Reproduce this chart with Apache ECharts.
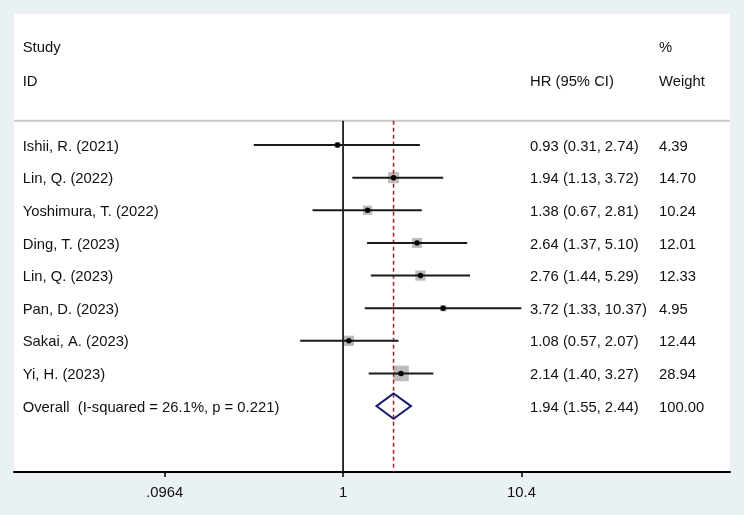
<!DOCTYPE html>
<html>
<head>
<meta charset="utf-8">
<script src="https://cdn.jsdelivr.net/npm/echarts@6/dist/echarts.min.js"></script>
<style>
html,body{margin:0;padding:0;background:#eaf1f3;}
#chart{width:744px;height:515px;}
</style>
</head>
<body>
<div id="chart"></div>
<script>
// ---- data ----
var studies = ['Ishii, R. (2021)','Lin, Q. (2022)','Yoshimura, T. (2022)','Ding, T. (2023)','Lin, Q. (2023)','Pan, D. (2023)','Sakai, A. (2023)','Yi, H. (2023)'];
var hr      = [0.93, 1.94, 1.38, 2.64, 2.76, 3.72, 1.08, 2.14];
var lower   = [0.31, 1.13, 0.67, 1.37, 1.44, 1.33, 0.57, 1.40];
var upper   = [2.74, 3.72, 2.81, 5.10, 5.29, 10.37, 2.07, 3.27];
var weights = [4.39, 14.70, 10.24, 12.01, 12.33, 4.95, 12.44, 28.94];
var hrText  = ['0.93 (0.31, 2.74)','1.94 (1.13, 3.72)','1.38 (0.67, 2.81)','2.64 (1.37, 5.10)','2.76 (1.44, 5.29)','3.72 (1.33, 10.37)','1.08 (0.57, 2.07)','2.14 (1.40, 3.27)'];
var weightText = ['4.39','14.70','10.24','12.01','12.33','4.95','12.44','28.94'];
var overallLabel = 'Overall  (I-squared = 26.1%, p = 0.221)';
var overallHR = 1.94, overallLo = 1.55, overallHi = 2.44;
var overallHRText = '1.94 (1.55, 2.44)', overallWeightText = '100.00';
var headerStudy = ['Study','ID'];
var headerHR = ['', 'HR (95% CI)'];
var headerWeight = ['%','Weight'];
var tickValues = [0.0964, 1, 10.4];
var tickLabels = ['.0964','1','10.4'];
var nullValue = 1;

// ---- layout ----
var FONT_FAMILY = '"Liberation Sans", Arial, sans-serif';
var FONT = '14.8px ' + FONT_FAMILY;
var TEXT_COLOR = '#111';
var COL_STUDY = 8.7, COL_HR = 516, COL_W = 645; // offsets from grid left (px)
var HEADER_ROWS = [-2.973, -1.931];
var RULE_ROW = -0.745;
var lg = function(v){ return Math.log(v)/Math.LN10; };

var nStudies = studies.length;
var overallRow = nStudies;

var chart = echarts.init(document.getElementById('chart'), null, {renderer:'canvas'});

function textEl(x, y, s, align){
  return {type:'text', x:x, y:y, style:{text:s, fill:TEXT_COLOR, font:FONT,
    textAlign:align||'left', textVerticalAlign:'middle', align:align||'left', verticalAlign:'middle'}};
}

var studyData = studies.map(function(s, i){ return [lg(hr[i]), i, lg(lower[i]), lg(upper[i]), weights[i]]; });

var option = {
  animation:false,
  backgroundColor:'#eaf1f3',
  grid:{left:14, right:14, top:14, bottom:43, show:true, backgroundColor:'#ffffff', borderWidth:0},
  xAxis:{
    type:'value', min:-1.875, max:2.205,
    splitLine:{show:false},
    axisLine:{show:true, onZero:false, lineStyle:{color:'#000', width:2}},
    axisTick:{show:true, length:5, lineStyle:{color:'#000', width:1.5}, customValues:tickValues.map(lg)},
    axisLabel:{show:true, margin:13.5, color:'#111', fontFamily:FONT_FAMILY, fontSize:14.8,
      customValues:tickValues.map(lg),
      formatter:function(v){
        var best=0, d=1e9;
        for(var k=0;k<tickValues.length;k++){ var dd=Math.abs(lg(tickValues[k])-v); if(dd<d){d=dd;best=k;} }
        return tickLabels[best];
      }}
  },
  yAxis:{type:'value', inverse:true, min:-4.015, max:10.02, show:false},
  series:[
    // weight boxes
    {
      type:'custom', z:1, data:studyData,
      renderItem:function(params, api){
        var c = api.coord([api.value(0), api.value(1)]);
        var side = 2.9*Math.sqrt(api.value(4));
        return {type:'rect', shape:{x:c[0]-side/2, y:c[1]-side/2, width:side, height:side}, style:{fill:'#bcbcbc'}};
      }
    },
    // rule, null line, overall dashed line
    {
      type:'custom', z:2, data:[[0]],
      renderItem:function(params, api){
        var cs = params.coordSys;
        var top = api.coord([0, RULE_ROW])[1];
        var bottom = cs.y + cs.height;
        var x1 = api.coord([lg(nullValue), 0])[0];
        var x2 = api.coord([lg(overallHR), 0])[0];
        return {type:'group', children:[
          {type:'line', shape:{x1:cs.x, y1:top, x2:cs.x+cs.width, y2:top}, style:{stroke:'#c8c8c8', lineWidth:2}},
          {type:'line', shape:{x1:x1, y1:top, x2:x1, y2:bottom}, style:{stroke:'#000', lineWidth:1.6}},
          {type:'line', shape:{x1:x2, y1:top, x2:x2, y2:bottom}, style:{stroke:'#a3242b', lineWidth:1.5, lineDash:[4,3]}}
        ]};
      }
    },
    // CI lines and points
    {
      type:'custom', z:3, data:studyData,
      renderItem:function(params, api){
        var c = api.coord([api.value(0), api.value(1)]);
        var a = api.coord([api.value(2), api.value(1)]);
        var b = api.coord([api.value(3), api.value(1)]);
        return {type:'group', children:[
          {type:'line', shape:{x1:a[0], y1:a[1], x2:b[0], y2:b[1]}, style:{stroke:'#1a1a1a', lineWidth:2}},
          {type:'circle', shape:{cx:c[0], cy:c[1], r:2.7}, style:{fill:'#000'}}
        ]};
      }
    },
    // overall diamond
    {
      type:'custom', z:3, data:[[lg(overallHR), overallRow, lg(overallLo), lg(overallHi)]],
      renderItem:function(params, api){
        var c = api.coord([api.value(0), api.value(1)]);
        var a = api.coord([api.value(2), api.value(1)]);
        var b = api.coord([api.value(3), api.value(1)]);
        var h = 12.7;
        return {type:'polygon', shape:{points:[[a[0],c[1]],[c[0],c[1]-h],[b[0],c[1]],[c[0],c[1]+h]]},
          style:{fill:'none', stroke:'#1b1c6e', lineWidth:2}};
      }
    },
    // texts
    {
      type:'custom', z:4, data:[[0]],
      renderItem:function(params, api){
        var cs = params.coordSys;
        var ch = [];
        var dy = 1.5;
        for (var h=0; h<HEADER_ROWS.length; h++){
          var y = api.coord([0, HEADER_ROWS[h]])[1];
          if (headerStudy[h]) ch.push(textEl(cs.x+COL_STUDY, y, headerStudy[h]));
          if (headerHR[h]) ch.push(textEl(cs.x+COL_HR, y, headerHR[h]));
          if (headerWeight[h]) ch.push(textEl(cs.x+COL_W, y, headerWeight[h]));
        }
        for (var i=0; i<nStudies; i++){
          var yy = api.coord([0, i])[1] + dy;
          ch.push(textEl(cs.x+COL_STUDY, yy, studies[i]));
          ch.push(textEl(cs.x+COL_HR, yy, hrText[i]));
          ch.push(textEl(cs.x+COL_W, yy, weightText[i]));
        }
        var yo = api.coord([0, overallRow])[1] + dy;
        ch.push(textEl(cs.x+COL_STUDY, yo, overallLabel));
        ch.push(textEl(cs.x+COL_HR, yo, overallHRText));
        ch.push(textEl(cs.x+COL_W, yo, overallWeightText));
        return {type:'group', children:ch};
      }
    }
  ]
};
chart.setOption(option);
</script>
</body>
</html>
